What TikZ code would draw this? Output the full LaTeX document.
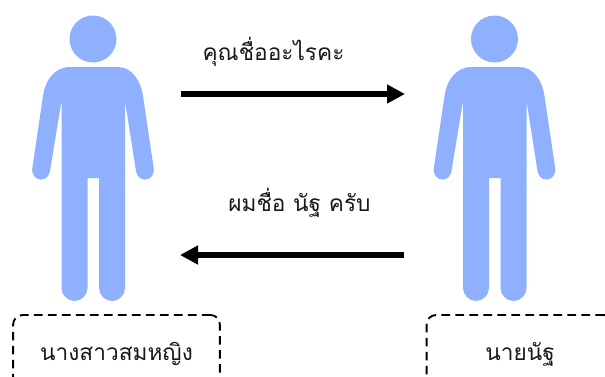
\documentclass[tikz,border=0pt]{standalone}
\usepackage{fontspec}
\usetikzlibrary{arrows.meta}
\newfontfamily\thaifont[Script=Thai]{Loma}
\definecolor{personblue}{HTML}{8FB0FF}
\tikzset{
  x=0.75pt,y=-0.75pt,
  person/.style={fill=personblue,draw=none},
  label/.style={font=\thaifont\fontsize{17pt}{20pt}\selectfont,text=black!90,inner sep=0pt},
  namebox/.style={draw=black,line width=1.4pt,dash pattern=on 6.5pt off 4pt,rounded corners=7pt,minimum height=58.5pt,inner sep=0pt,label},
  msg/.style={line width=4.3pt,-{Triangle[length=13.5pt,width=13.5pt]}}
}
\newcommand{\drawperson}[1]{%
  \begin{scope}[shift={(#1,0)}]
    \fill[person] (93,39) circle[radius=23.5];
    \fill[person] (70,67) -- (118,67)
      .. controls (132,67) and (141,81) .. (143,96)
      -- (153.5,167)
      .. controls (155,174) and (151,179.5) .. (145,179.5)
      .. controls (140,179.5) and (137,176) .. (136,171)
      -- (125,101) -- (125,288)
      .. controls (125,295) and (119,301) .. (112,301)
      .. controls (105,301) and (99,295) .. (99,288)
      -- (99,178) -- (87.5,178) -- (87.5,288)
      .. controls (87.5,295) and (81.5,301) .. (74.5,301)
      .. controls (67.5,301) and (61.5,295) .. (61.5,288)
      -- (61.5,101) -- (50,171)
      .. controls (49,176) and (46,179.5) .. (41,179.5)
      .. controls (35,179.5) and (31,174) .. (32.5,167)
      -- (43,96)
      .. controls (45,81) and (54,67) .. (70,67) -- cycle;
  \end{scope}}
\begin{document}
\begin{tikzpicture}
\useasboundingbox (0,0) rectangle (605,376);
\drawperson{0}
\drawperson{401.5}
\coordinate (a1) at (181,94);
\coordinate (a2) at (405,94);
\coordinate (b1) at (404,255);
\coordinate (b2) at (180,255);
\draw[msg] (a1) -- (a2);
\draw[msg] (b1) -- (b2);
\node[label] (q) at (273.5,52) {คุณชื่ออะไรคะ};
\node[label] (r) at (299.5,203) {ผมชื่อ นัฐ ครับ};
\node[namebox,minimum width=155pt] (n1) at (116.5,354) {นางสาวสมหญิง};
\node[namebox,minimum width=140pt] (n2) at (520,354) {นายนัฐ};
\end{tikzpicture}
\end{document}
